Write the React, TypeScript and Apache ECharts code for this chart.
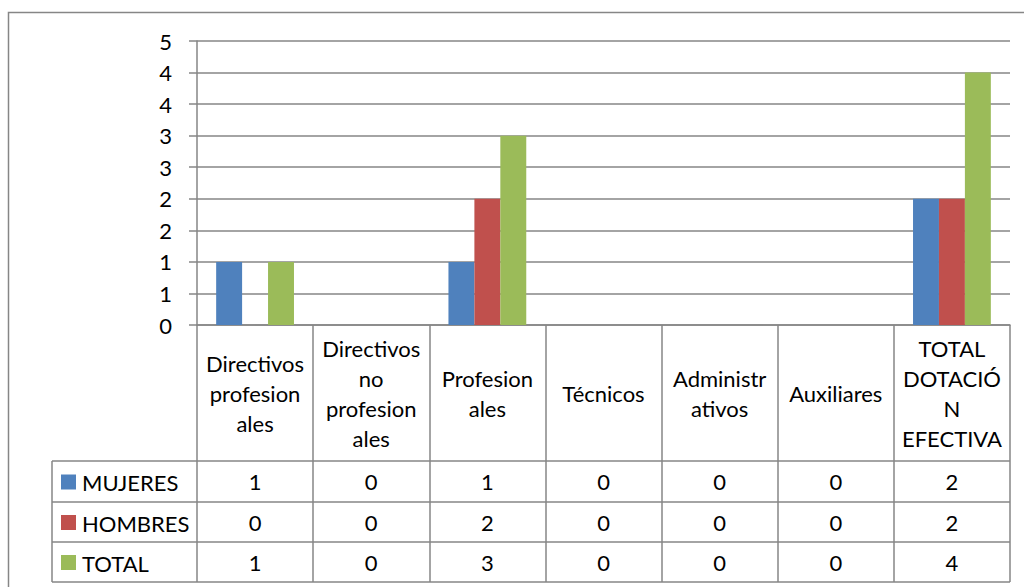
import React, { useEffect, useRef } from "react";
import * as echarts from "echarts";

const categories = [
  "Directivos\nprofesion\nales",
  "Directivos\nno\nprofesion\nales",
  "Profesion\nales",
  "Técnicos",
  "Administr\nativos",
  "Auxiliares",
  "TOTAL\nDOTACIÓ\nN\nEFECTIVA",
];
const seriesNames = ["MUJERES", "HOMBRES", "TOTAL"];
const mujeres = [1, 0, 1, 0, 0, 0, 2];
const hombres = [0, 0, 2, 0, 0, 0, 2];
const total = [1, 0, 3, 0, 0, 0, 4];
const colors = ["#4F81BD", "#C0504D", "#9BBB59"];

const W = 1024;
const H = 587;
const FONT = "Lato, 'Liberation Sans', sans-serif";
const FS = 22;
const LINE = "#868686";

const gridLeft = 197;
const gridRight = 1010;
const gridTop = 41;
const gridBottom = 325;
const headerBottom = 461;
const rowBottoms = [502, 542, 582];
const legendLeft = 52;

export default function App() {
  const ref = useRef<HTMLDivElement>(null);
  useEffect(() => {
    document.body.style.margin = "0";
    const chart = echarts.init(ref.current!, null, { renderer: "svg" });
    const allValues = [mujeres, hombres, total];
    const rowTops = [headerBottom, rowBottoms[0], rowBottoms[1]];
    const rowCenters = rowTops.map((t, i) => (t + rowBottoms[i]) / 2);

    const extraAxes = allValues.map((vals, r) => ({
      type: "category",
      gridIndex: 0,
      position: "bottom",
      data: categories,
      axisLine: { show: false },
      axisTick: { show: false },
      splitLine: { show: false },
      axisLabel: {
        interval: 0,
        margin: rowCenters[r] - gridBottom,
        verticalAlign: "middle",
        fontFamily: FONT,
        fontSize: FS,
        color: "#000",
        formatter: (_v: string, i: number) => String(vals[i]),
      },
    }));

    const graphics: any[] = [
      {
        type: "rect",
        shape: { x: 8.5, y: 12.5, width: 1100, height: 700 },
        style: { fill: "none", stroke: LINE, lineWidth: 1.5 },
        silent: true,
      },
    ];
    // horizontal table lines
    [headerBottom, ...rowBottoms].forEach((y) => {
      graphics.push({
        type: "line",
        shape: { x1: legendLeft, y1: y, x2: gridRight, y2: y },
        style: { stroke: LINE, lineWidth: 1.5 },
        silent: true,
      });
    });
    graphics.push({
      type: "line",
      shape: { x1: legendLeft, y1: headerBottom, x2: legendLeft, y2: rowBottoms[2] },
      style: { stroke: LINE, lineWidth: 1.5 },
      silent: true,
    });
    seriesNames.forEach((name, r) => {
      graphics.push({
        type: "rect",
        shape: { x: 61, y: rowCenters[r] - 7, width: 15, height: 15 },
        style: { fill: colors[r] },
        silent: true,
      });
      graphics.push({
        type: "text",
        x: 82,
        y: rowCenters[r] + 1,
        style: {
          text: name,
          fontFamily: FONT,
          fontSize: FS,
          fill: "#000",
          verticalAlign: "middle",
          align: "left",
        },
        silent: true,
      });
    });

    chart.setOption({
      animation: false,
      backgroundColor: "#fff",
      grid: {
        left: gridLeft,
        right: W - gridRight,
        top: gridTop,
        bottom: H - gridBottom,
        containLabel: false,
      },
      xAxis: [
        {
          type: "category",
          data: categories,
          position: "bottom",
          axisLine: { show: true, lineStyle: { color: LINE, width: 1.5 } },
          axisTick: {
            show: true,
            interval: 0,
            length: rowBottoms[2] - gridBottom,
            lineStyle: { color: LINE, width: 1.5 },
          },
          axisLabel: {
            interval: 0,
            margin: (headerBottom - gridBottom) / 2,
            verticalAlign: "middle",
            align: "center",
            fontFamily: FONT,
            fontSize: FS,
            lineHeight: 30,
            color: "#000",
          },
        },
        ...extraAxes,
      ],
      yAxis: {
        type: "value",
        min: 0,
        max: 4.5,
        interval: 0.5,
        axisLine: { show: true, lineStyle: { color: LINE, width: 1.5 } },
        axisTick: { show: true, length: 8, lineStyle: { color: LINE, width: 1.5 } },
        splitLine: { show: true, lineStyle: { color: LINE, width: 1.5 } },
        axisLabel: {
          margin: 25,
          fontFamily: FONT,
          fontSize: FS,
          color: "#000",
          formatter: (v: number) => String(Math.round(v)),
        },
      },
      series: allValues.map((vals, i) => ({
        name: seriesNames[i],
        type: "bar",
        data: vals,
        barGap: "0%",
        barCategoryGap: "33%",
        itemStyle: { color: colors[i] },
      })),
      graphic: graphics,
    });
    return () => chart.dispose();
  }, []);
  return (
    <div
      ref={ref}
      style={{ position: "fixed", left: 0, top: 0, width: W, height: H }}
    />
  );
}
